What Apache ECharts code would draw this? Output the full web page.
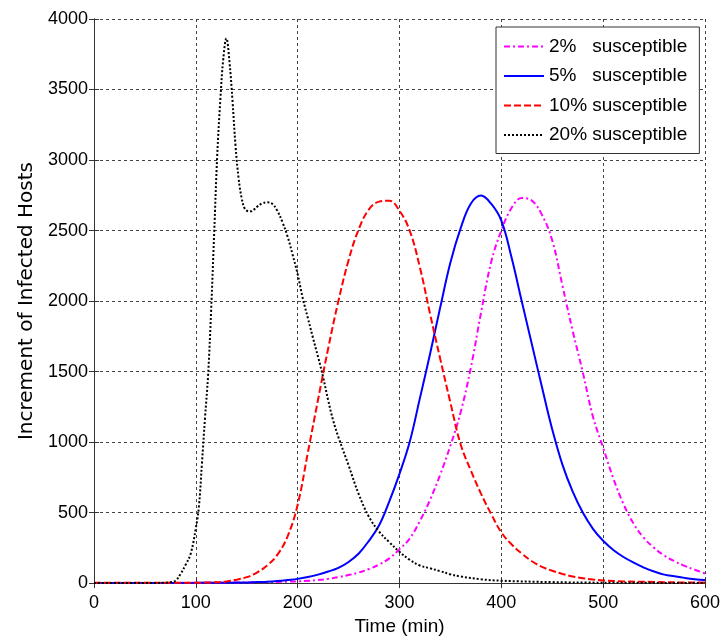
<!DOCTYPE html>
<html>
<head>
<meta charset="utf-8">
<title>Increment of Infected Hosts</title>
<script src="https://cdn.jsdelivr.net/npm/echarts@6/dist/echarts.min.js"></script>
<style>
  html, body { margin: 0; padding: 0; background: #fff; }
  #chart { width: 723px; height: 641px; }
</style>
</head>
<body>
<div id="chart"></div>
<script>
// values
const timeTicks = [0, 100, 200, 300, 400, 500, 600]
const hostTicks = [0, 500, 1000, 1500, 2000, 2500, 3000, 3500, 4000]

const time2 = [0, 100, 150, 200, 210, 220, 230, 240, 250, 260, 270, 280, 290, 300, 310, 320, 330, 340, 350, 360, 370, 380, 390, 400, 410, 420, 430, 440, 450, 460, 470, 480, 490, 500, 510, 520, 530, 540, 550, 560, 570, 580, 590, 600]
const hosts2 = [0, 2, 5, 12, 16, 22, 30, 42, 57, 75, 100, 132, 175, 240, 315, 440, 590, 770, 975, 1210, 1525, 1915, 2275, 2500, 2660, 2730, 2712, 2610, 2430, 2110, 1790, 1495, 1180, 960, 742, 560, 420, 320, 250, 195, 155, 122, 95, 68]

const time5 = [0, 100, 150, 160, 170, 180, 190, 200, 210, 220, 230, 240, 250, 260, 270, 280, 290, 300, 310, 320, 330, 340, 350, 360, 370, 380, 390, 400, 410, 420, 430, 440, 450, 460, 470, 480, 490, 500, 510, 520, 530, 540, 550, 560, 570, 580, 590, 600]
const hosts5 = [1, 2, 4, 7, 10, 15, 22, 30, 43, 60, 82, 108, 150, 210, 300, 410, 580, 775, 1000, 1310, 1625, 1955, 2273, 2515, 2690, 2748, 2690, 2570, 2310, 2000, 1694, 1387, 1090, 840, 650, 500, 385, 300, 235, 185, 145, 110, 82, 60, 48, 37, 28, 22]

const time10 = [0, 100, 110, 120, 130, 140, 150, 160, 170, 180, 190, 200, 210, 220, 230, 240, 250, 260, 270, 280, 290, 300, 310, 320, 330, 340, 350, 360, 370, 380, 390, 400, 410, 420, 430, 440, 450, 460, 470, 480, 490, 500, 520, 550, 575, 600]
const hosts10 = [2, 3, 4, 6, 12, 24, 42, 75, 125, 200, 330, 555, 925, 1300, 1665, 2000, 2290, 2510, 2650, 2705, 2712, 2640, 2500, 2240, 1910, 1590, 1280, 985, 800, 635, 490, 360, 275, 210, 155, 115, 88, 65, 47, 35, 25, 19, 12, 8, 5, 4]

const time20 = [0, 60, 70, 75, 80, 85, 90, 95, 100, 103, 106, 109, 112, 115, 118, 121, 124, 127, 130, 133, 136, 139, 142, 145, 148, 151, 154, 157, 160, 165, 170, 175, 180, 185, 190, 195, 200, 205, 210, 215, 220, 225, 230, 235, 240, 250, 260, 270, 280, 290, 300, 310, 320, 330, 340, 350, 360, 380, 400, 450, 500, 600]
const hosts20 = [0, 1, 3, 6, 16, 65, 130, 210, 390, 540, 850, 1170, 1470, 1930, 2480, 3030, 3420, 3720, 3862, 3700, 3420, 3100, 2870, 2730, 2655, 2638, 2636, 2648, 2668, 2692, 2700, 2690, 2640, 2560, 2460, 2330, 2190, 2020, 1880, 1740, 1605, 1460, 1295, 1150, 1035, 835, 630, 470, 365, 290, 222, 165, 125, 105, 85, 62, 47, 27, 17, 7, 3, 1]

const seriesNames = ['2%   susceptible', '5%   susceptible', '10% susceptible', '20% susceptible']

const font = "'Liberation Sans', Arial, sans-serif"
const zip = (xs, ys) => xs.map((x, i) => [x, ys[i]])

const makeLine = (name, data, color, type) => ({
  name,
  type: 'line',
  data,
  symbol: 'none',
  smooth: 0.4,
  clip: true,
  itemStyle: { color },
  lineStyle: { color, width: 2, type }
})

const frameAxis = {
  axisLine: { show: true, lineStyle: { color: '#333', width: 1 } },
  axisTick: { show: true, inside: true, length: 5, lineStyle: { color: '#333' } },
  axisLabel: { show: false },
  splitLine: { show: false }
}

const gridLine = { show: true, lineStyle: { type: [3, 3], color: '#444', width: 1 } }

const option = {
  backgroundColor: '#fff',
  animation: false,
  textStyle: { fontFamily: font },
  grid: { left: 94, right: 18, top: 19, bottom: 56 },
  legend: {
    orient: 'vertical',
    left: 496,
    top: 27,
    padding: [10, 12, 9, 7],
    itemWidth: 40,
    itemHeight: 14,
    itemGap: 10.5,
    // hide the circle that line series put in the middle of the legend line
    itemStyle: { color: 'rgba(0,0,0,0)', borderWidth: 0, opacity: 0 },
    backgroundColor: '#fff',
    borderColor: '#333',
    borderWidth: 1,
    textStyle: { fontFamily: font, fontSize: 19, color: '#000', lineHeight: 19 },
    data: seriesNames
  },
  xAxis: [
    {
      type: 'value',
      min: timeTicks[0],
      max: timeTicks[timeTicks.length - 1],
      interval: timeTicks[1] - timeTicks[0],
      name: 'Time (min)',
      nameLocation: 'middle',
      nameGap: 33,
      nameTextStyle: { fontFamily: font, fontSize: 19, color: '#000' },
      axisLine: { show: true, lineStyle: { color: '#333', width: 1 } },
      axisTick: { show: true, inside: true, length: 5, lineStyle: { color: '#333' } },
      axisLabel: { fontFamily: font, fontSize: 18, color: '#000', margin: 11 },
      splitLine: gridLine
    },
    {
      type: 'value',
      position: 'top',
      min: timeTicks[0],
      max: timeTicks[timeTicks.length - 1],
      interval: timeTicks[1] - timeTicks[0],
      ...frameAxis
    }
  ],
  yAxis: [
    {
      type: 'value',
      min: hostTicks[0],
      max: hostTicks[hostTicks.length - 1],
      interval: hostTicks[1] - hostTicks[0],
      name: 'Increment of Infected Hosts',
      nameLocation: 'middle',
      nameGap: 54,
      nameTextStyle: { fontFamily: "'DejaVu Sans', sans-serif", fontSize: 20, color: '#000' },
      axisLine: { show: true, lineStyle: { color: '#333', width: 1 } },
      axisTick: { show: true, inside: true, length: 5, lineStyle: { color: '#333' } },
      axisLabel: { fontFamily: font, fontSize: 18, color: '#000', margin: 6, formatter: (v) => String(v) },
      splitLine: gridLine
    },
    {
      type: 'value',
      position: 'right',
      min: hostTicks[0],
      max: hostTicks[hostTicks.length - 1],
      interval: hostTicks[1] - hostTicks[0],
      ...frameAxis
    }
  ],
  series: [
    makeLine(seriesNames[0], zip(time2, hosts2), '#ff00ff', [6, 3, 2, 3]),
    makeLine(seriesNames[1], zip(time5, hosts5), '#0000ff', 'solid'),
    makeLine(seriesNames[2], zip(time10, hosts10), '#ff0000', [7, 3]),
    makeLine(seriesNames[3], zip(time20, hosts20), '#000000', [2, 2])
  ]
}

const myChart = echarts.init(document.getElementById('chart'))
myChart.setOption(option)
</script>
</body>
</html>
